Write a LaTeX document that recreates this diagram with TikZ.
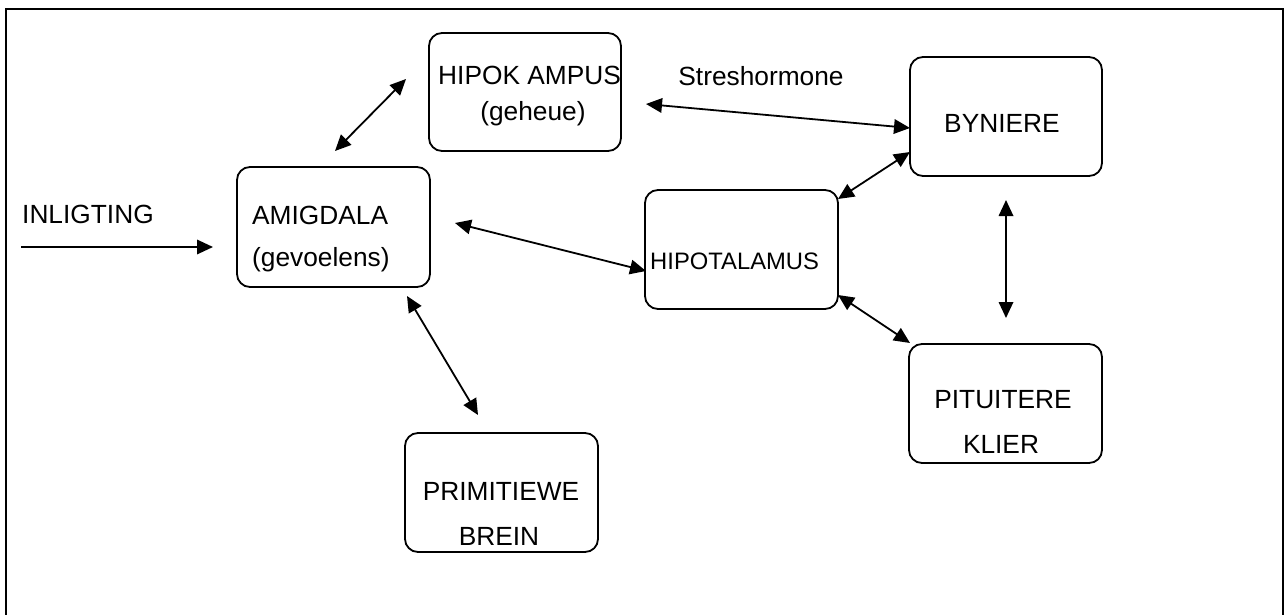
\documentclass[tikz,border=0pt]{standalone}
\usepackage{fontspec}
\setmainfont{Liberation Sans}
\usetikzlibrary{arrows.meta}
\begin{document}
\begin{tikzpicture}[x=1pt,y=-1pt,
  box/.style={draw,line width=1.8pt,rounded corners=13pt,inner sep=0pt},
  lbl/.style={inner sep=0pt,anchor=base,font=\fontsize{26.3}{30}\selectfont},
  lbll/.style={lbl,anchor=base west},
  tip/.style={Triangle[length=16pt,width=14.5pt]},
  conn/.style={line width=1.8pt,{Triangle[length=16pt,width=14.5pt]}-{Triangle[length=16pt,width=14.5pt]}},
  feed/.style={line width=1.8pt,-{Triangle[length=16pt,width=14.5pt]}}]
\useasboundingbox (0,0) rectangle (1285,615);
% outer frame, its lower edge lies below the page
\draw[line width=2.4pt] (6,616) -- (6,9) -- (1283,9) -- (1283,616);

% boxes
\node[box,minimum width=192pt,minimum height=118pt] (hipok) at (525,92) {};
\node[box,minimum width=193pt,minimum height=120pt] (amig) at (333.5,227) {};
\node[box,minimum width=192pt,minimum height=119pt] (byn) at (1006,116.5) {};
\node[box,minimum width=193pt,minimum height=119pt] (hipot) at (741.5,249.5) {};
\node[box,minimum width=193pt,minimum height=119pt] (pit) at (1005.5,403.5) {};
\node[box,minimum width=193pt,minimum height=119pt] (prim) at (501.5,492.5) {};

% texts
\node[lbll] (inlT) at (22,223) {INLIGTING};
\node[lbll] (amigT1) at (252,224) {AMIGDALA};
\node[lbll] (amigT2) at (252,266) {(gevoelens)};
\node[lbll] (hipokT1) at (438,85) {HIPOK AMPUS};
\node[lbl] (hipokT2) at (533,121) {(geheue)};
\node[lbl] (stresT) at (761,86) {Streshormone};
\node[lbll] (bynT) at (944,132) {BYNIERE};
\node[lbll,font=\fontsize{23.8}{28}\selectfont] (hipotT) at (650,269) {HIPOTALAMUS};
\node[lbl] (pitT1) at (1003,408) {PITUITERE};
\node[lbl] (pitT2) at (1001,453) {KLIER};
\node[lbl] (primT1) at (501,500) {PRIMITIEWE};
\node[lbl] (primT2) at (499,545) {BREIN};

% connector ends
\coordinate (inA) at (21,247);
\coordinate (inB) at (213,247);
\coordinate (ahA) at (335,151);
\coordinate (ahB) at (406,79);
\coordinate (atA) at (455,223);
\coordinate (atB) at (646,271);
\coordinate (hbA) at (646,104);
\coordinate (hbB) at (910,128);
\coordinate (btA) at (910,152);
\coordinate (btB) at (838,199);
\coordinate (bpA) at (1006,200);
\coordinate (bpB) at (1006,318);
\coordinate (tpA) at (838,295);
\coordinate (tpB) at (910,343);
\coordinate (apA) at (407,296);
\coordinate (apB) at (478,415);

% connectors
\draw[feed] (inA) -- (inB);
\draw[conn] (ahA) -- (ahB);
\draw[conn] (atA) -- (atB);
\draw[conn] (hbA) -- (hbB);
\draw[conn] (btA) -- (btB);
\draw[conn] (bpA) -- (bpB);
\draw[conn] (tpA) -- (tpB);
\draw[conn] (apA) -- (apB);
\end{tikzpicture}
\end{document}
